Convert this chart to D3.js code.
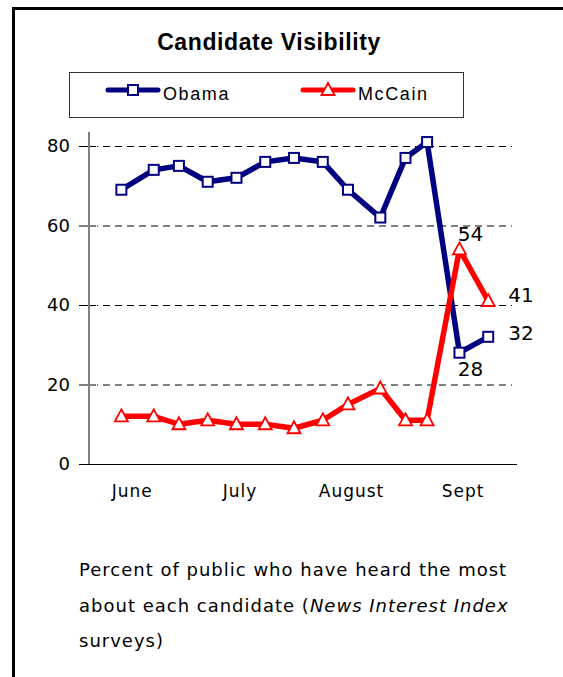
<!DOCTYPE html>
<html>
<head>
<meta charset="utf-8">
<script src="https://cdn.jsdelivr.net/npm/d3@7"></script>
<style>
  body { margin: 0; background: #fff; }
  svg { display: block; }
</style>
</head>
<body>
<svg id="chart"></svg>
<script>
// survey dates (weekly News Interest Index)
const surveyDates = ["2008-06-12", "2008-06-21", "2008-06-28", "2008-07-06", "2008-07-14",
    "2008-07-22", "2008-07-30", "2008-08-07", "2008-08-14", "2008-08-23",
    "2008-08-30", "2008-09-05", "2008-09-14", "2008-09-22"];
const obama = [69, 74, 75, 71, 72, 76, 77, 76, 69, 62, 77, 81, 28, 32];
const mccain = [12, 12, 10, 11, 10, 10, 9, 11, 15, 19, 11, 11, 54, 41];
const months = ["June", "July", "August", "Sept"];
const monthMid = ["2008-06-15", "2008-07-15", "2008-08-15", "2008-09-15"];
const yTicks = [0, 20, 40, 60, 80];

const width = 563, height = 677;
const plot = {left: 89, right: 517, top: 146, bottom: 464};
const axisFont = "'DejaVu Sans', Verdana, sans-serif";

const parse = d3.utcParse("%Y-%m-%d");

let svg = d3.select("#chart")
    .attr("width", width)
    .attr("height", height);

// outer frame (runs off the right/bottom edge)
svg.append("rect")
    .attr("x", 13.5).attr("y", 8.5)
    .attr("width", 640).attr("height", 720)
    .attr("fill", "none")
    .attr("stroke", "#000")
    .attr("stroke-width", 3);

svg.append("text")
    .attr("x", 269).attr("y", 50)
    .attr("text-anchor", "middle")
    .style("font-family", "'Liberation Sans', Arial, sans-serif")
    .style("font-weight", "bold")
    .style("font-size", "23px")
    .style("letter-spacing", "0.6px")
    .text("Candidate Visibility");

let x = d3.scaleUtc()
    .domain([parse("2008-06-03"), parse("2008-09-30")])
    .range([plot.left, plot.right]);

let y = d3.scaleLinear()
    .domain([0, 80])
    .range([plot.bottom, plot.top]);

// gridlines + crossing ticks
let grid = svg.append("g").attr("transform", "translate(0,0.5)");
grid.selectAll("line.dash")
    .data(yTicks.filter(d => d > 0))
    .enter().append("line")
    .attr("class", "dash")
    .attr("x1", plot.left + 8).attr("x2", 512)
    .attr("y1", d => y(d)).attr("y2", d => y(d))
    .attr("stroke", "#000")
    .attr("stroke-dasharray", "7,5")
    .attr("stroke-dashoffset", -6);
grid.selectAll("line.tick")
    .data(yTicks)
    .enter().append("line")
    .attr("class", "tick")
    .attr("x1", plot.left - 10).attr("x2", plot.left + 7)
    .attr("y1", d => y(d)).attr("y2", d => y(d))
    .attr("stroke", "#000");

svg.selectAll("text.ylab")
    .data(yTicks)
    .enter().append("text")
    .attr("class", "ylab")
    .attr("x", 70)
    .attr("y", d => y(d))
    .attr("dy", "0.36em")
    .attr("text-anchor", "end")
    .style("font-family", axisFont)
    .style("font-size", "18px")
    .text(d => d);

// axes lines
svg.append("line")
    .attr("x1", plot.left - 8).attr("x2", plot.right)
    .attr("y1", y(0) + 0.5).attr("y2", y(0) + 0.5)
    .attr("stroke", "#000");
svg.append("line")
    .attr("x1", plot.left).attr("x2", plot.left)
    .attr("y1", y(83.5)).attr("y2", y(0))
    .attr("stroke", "#808080")
    .attr("stroke-width", 2);

svg.selectAll("text.month")
    .data(months)
    .enter().append("text")
    .attr("class", "month")
    .attr("x", (d, i) => x(parse(monthMid[i])))
    .attr("y", 497)
    .attr("text-anchor", "middle")
    .style("font-family", axisFont)
    .style("font-size", "17px")
    .style("letter-spacing", "1px")
    .text(d => d);

let line = d3.line()
    .x(d => x(d.date))
    .y(d => y(d.v));

let obamaData = obama.map((v, i) => ({date: parse(surveyDates[i]), v: v}));
let mccainData = mccain.map((v, i) => ({date: parse(surveyDates[i]), v: v}));

const navy = "#000080", red = "#ff0000";
const triPath = "M0,-7L6.5,5L-6.5,5Z";

svg.append("path")
    .datum(obamaData)
    .attr("d", line)
    .attr("fill", "none")
    .attr("stroke", navy)
    .attr("stroke-width", 5.5)
    .attr("stroke-linejoin", "round");

svg.selectAll("rect.ob")
    .data(obamaData)
    .enter().append("rect")
    .attr("class", "ob")
    .attr("x", d => x(d.date) - 5)
    .attr("y", d => y(d.v) - 5)
    .attr("width", 10).attr("height", 10)
    .attr("fill", "#fff")
    .attr("stroke", navy)
    .attr("stroke-width", 2);

svg.append("path")
    .datum(mccainData)
    .attr("d", line)
    .attr("fill", "none")
    .attr("stroke", red)
    .attr("stroke-width", 5.5)
    .attr("stroke-linejoin", "round");

svg.selectAll("path.mc")
    .data(mccainData)
    .enter().append("path")
    .attr("class", "mc")
    .attr("d", triPath)
    .attr("transform", d => "translate(" + x(d.date) + "," + y(d.v) + ")")
    .attr("fill", "#fff")
    .attr("stroke", red)
    .attr("stroke-width", 1.8);

// value labels on the last two surveys
let n = surveyDates.length;
let labels = [
    {d: mccainData[n - 2], dx: 11, dy: -8, anchor: "middle"},
    {d: obamaData[n - 2], dx: 11, dy: 23, anchor: "middle"},
    {d: mccainData[n - 1], dx: 20, dy: 1, anchor: "start"},
    {d: obamaData[n - 1], dx: 20, dy: 3, anchor: "start"}
];
svg.selectAll("text.val")
    .data(labels)
    .enter().append("text")
    .attr("class", "val")
    .attr("x", l => x(l.d.date) + l.dx)
    .attr("y", l => y(l.d.v) + l.dy)
    .attr("text-anchor", l => l.anchor)
    .style("font-family", axisFont)
    .style("font-size", "20px")
    .text(l => l.d.v);

// legend
let legend = svg.append("g");
legend.append("rect")
    .attr("x", 69.5).attr("y", 72.5)
    .attr("width", 394).attr("height", 45)
    .attr("fill", "#fff")
    .attr("stroke", "#333");

let items = [
    {name: "Obama", color: navy, x0: 108, shape: "sq"},
    {name: "McCain", color: red, x0: 303, shape: "tri"}
];
items.forEach(it => {
    legend.append("line")
        .attr("x1", it.x0).attr("x2", it.x0 + 50)
        .attr("y1", 90).attr("y2", 90)
        .attr("stroke", it.color)
        .attr("stroke-width", 5)
        .attr("stroke-linecap", "round");
    if (it.shape === "sq") {
        legend.append("rect")
            .attr("x", it.x0 + 20).attr("y", 85)
            .attr("width", 10).attr("height", 10)
            .attr("fill", "#fff")
            .attr("stroke", it.color)
            .attr("stroke-width", 2);
    } else {
        legend.append("path")
            .attr("d", triPath)
            .attr("transform", "translate(" + (it.x0 + 25) + ",90)")
            .attr("fill", "#fff")
            .attr("stroke", it.color)
            .attr("stroke-width", 1.8);
    }
    legend.append("text")
        .attr("x", it.x0 + 55).attr("y", 100)
        .style("font-family", "'Liberation Sans', Arial, sans-serif")
        .style("font-size", "18px")
        .style("letter-spacing", "1.6px")
        .text(it.name);
});

// footnote
let note = svg.append("text")
    .style("font-family", axisFont)
    .style("font-size", "18px")
    .style("letter-spacing", "1px");
note.append("tspan").attr("x", 79).attr("y", 576)
    .text("Percent of public who have heard the most");
let l2 = note.append("tspan").attr("x", 79).attr("y", 612);
l2.append("tspan").text("about each candidate (");
l2.append("tspan").style("font-style", "italic").text("News Interest Index");
note.append("tspan").attr("x", 79).attr("y", 647).text("surveys)");
</script>
</body>
</html>
